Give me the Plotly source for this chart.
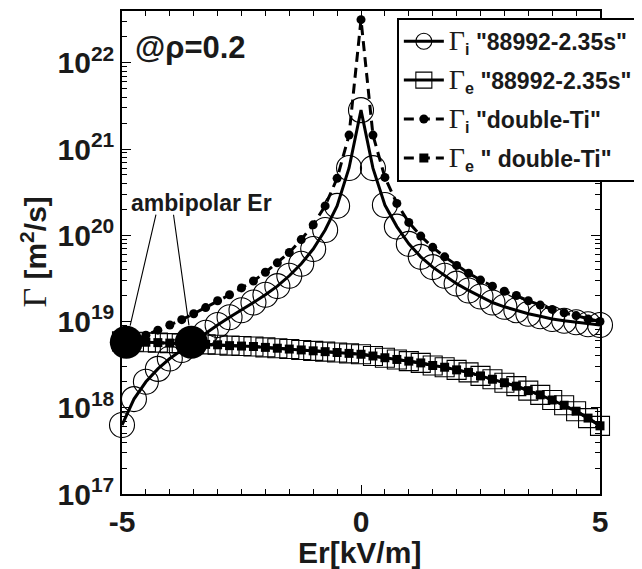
import math
import plotly.graph_objects as go

# Er grid [kV/m]
er = [-5.0, -4.75, -4.5, -4.25, -4.0, -3.75, -3.5, -3.25, -3.0, -2.75, -2.5,
      -2.25, -2.0, -1.75, -1.5, -1.25, -1.0, -0.75, -0.5, -0.25, 0.0,
      0.25, 0.5, 0.75, 1.0, 1.25, 1.5, 1.75, 2.0, 2.25, 2.5,
      2.75, 3.0, 3.25, 3.5, 3.75, 4.0, 4.25, 4.5, 4.75, 5.0]

# Gamma_i "88992-2.35s"  [m^2/s]
gamma_i_88992 = [6.3e17, 1.26e18, 2.0e18, 2.82e18, 3.72e18, 4.68e18, 5.89e18, 7.41e18,
                 9.12e18, 1.12e19, 1.35e19, 1.66e19, 2.04e19, 2.57e19, 3.39e19, 4.68e19,
                 6.92e19, 1.15e20, 2.19e20, 6.03e20, 2.82e21,
                 6.0e20, 2.24e20, 1.26e20, 7.94e19, 5.62e19, 4.27e19, 3.39e19, 2.75e19,
                 2.29e19, 1.95e19, 1.66e19, 1.48e19, 1.35e19, 1.23e19, 1.15e19, 1.07e19,
                 1.02e19, 9.8e18, 9.3e18, 9.1e18]

# Gamma_e "88992-2.35s"
gamma_e_88992 = [5.89e18, 5.82e18, 5.75e18, 5.69e18, 5.62e18, 5.56e18, 5.50e18, 5.43e18,
                 5.37e18, 5.25e18, 5.19e18, 5.13e18, 5.01e18, 4.90e18, 4.79e18, 4.68e18,
                 4.57e18, 4.47e18, 4.37e18, 4.27e18, 4.17e18,
                 3.98e18, 3.80e18, 3.63e18, 3.47e18, 3.31e18, 3.09e18, 2.95e18, 2.75e18,
                 2.57e18, 2.34e18, 2.14e18, 1.95e18, 1.78e18, 1.58e18, 1.41e18, 1.23e18,
                 1.07e18, 9.12e17, 7.59e17, 6.17e17]

# Gamma_i "double-Ti"
gamma_i_double = [5.25e18, 6.03e18, 6.92e18, 7.94e18, 9.12e18, 1.05e19, 1.23e19, 1.45e19,
                  1.74e19, 2.04e19, 2.45e19, 2.95e19, 3.72e19, 4.79e19, 6.31e19, 8.91e19,
                  1.32e20, 2.19e20, 4.57e20, 1.45e21, 3.16e22,
                  1.45e21, 4.68e20, 2.34e20, 1.41e20, 9.77e19, 7.24e19, 5.62e19, 4.47e19,
                  3.63e19, 3.02e19, 2.57e19, 2.24e19, 2.0e19, 1.74e19, 1.55e19, 1.38e19,
                  1.26e19, 1.17e19, 1.07e19, 1.0e19]

# Gamma_e "double-Ti"
gamma_e_double = [5.89e18, 5.82e18, 5.75e18, 5.69e18, 5.62e18, 5.56e18, 5.50e18, 5.43e18,
                  5.37e18, 5.25e18, 5.19e18, 5.13e18, 5.01e18, 4.90e18, 4.79e18, 4.68e18,
                  4.57e18, 4.47e18, 4.37e18, 4.27e18, 4.17e18,
                  3.98e18, 3.80e18, 3.63e18, 3.47e18, 3.31e18, 3.09e18, 2.95e18, 2.75e18,
                  2.57e18, 2.34e18, 2.14e18, 1.95e18, 1.78e18, 1.58e18, 1.41e18, 1.23e18,
                  1.07e18, 9.12e17, 7.59e17, 6.17e17]

# ambipolar Er solutions
ambi_er = [-4.91, -3.55]
ambi_gamma = [5.75e18, 5.75e18]

y_tickvals = [1e17, 1e18, 1e19, 1e20, 1e21, 1e22]
y_exponents = ["17", "18", "19", "20", "21", "22"]
x_tickvals = [-5, 0, 5]
x_ticktext = ["-5", "0", "5"]

SANS = "Liberation Sans, Arial, sans-serif"
INK = "#1a1a1a"
y_ticktext = ['10<sup><span style="font-size:21px">%s</span></sup>' % e for e in y_exponents]


def gam(size):
    return ('<span style="font-family:Liberation Serif;font-weight:normal;font-size:%dpx">Γ</span>'
            % size)


fig = go.Figure()

fig.add_trace(go.Scatter(
    x=er, y=gamma_i_88992, mode="lines+markers", cliponaxis=False,
    name=gam(28) + '<sub>i</sub> "88992-2.35s"', legendrank=1, legendgroup="a",
    line=dict(color="black", width=3),
    marker=dict(symbol="circle-open", size=25, color="black", line=dict(width=1.1, color="black")),
))
fig.add_trace(go.Scatter(
    x=er, y=gamma_e_88992, mode="lines+markers", cliponaxis=False,
    name=gam(28) + '<sub>e</sub> "88992-2.35s"', legendrank=2, legendgroup="b",
    line=dict(color="black", width=3),
    marker=dict(symbol="square-open", size=19, color="black", line=dict(width=1.1, color="black")),
))
fig.add_trace(go.Scatter(
    x=er, y=gamma_i_double, mode="lines+markers", cliponaxis=False,
    name=gam(28) + '<sub>i</sub> "double-Ti"', legendrank=3, legendgroup="c",
    line=dict(color="black", width=3, dash="10px,6px"),
    marker=dict(symbol="circle", size=9, color="black"),
))
fig.add_trace(go.Scatter(
    x=er, y=gamma_e_double, mode="lines+markers", cliponaxis=False,
    name=gam(28) + '<sub>e</sub> " double-Ti"', legendrank=4, legendgroup="d",
    line=dict(color="black", width=3, dash="10px,6px"),
    marker=dict(symbol="square", size=9, color="black"),
))
fig.add_trace(go.Scatter(
    x=ambi_er, y=ambi_gamma, mode="markers", cliponaxis=False, showlegend=False,
    marker=dict(symbol="circle", size=33, color="black"),
))

axis_common = dict(
    showline=True, linecolor="black", linewidth=1.5, mirror="ticks",
    ticks="inside", ticklen=9, tickwidth=1.3, tickcolor="black",
    showgrid=False, zeroline=False, automargin=False,
)

fig.update_xaxes(
    **axis_common, range=[-5, 5], tickvals=x_tickvals, ticktext=x_ticktext,
    tickfont=dict(family=SANS, size=30, color=INK, weight="bold"),
    minor=dict(ticks="inside", dtick=0.5, ticklen=5, tickwidth=1.2, tickcolor="black"),
)
fig.update_yaxes(
    **axis_common, type="log", range=[17, 22.6], tickvals=y_tickvals, ticktext=y_ticktext,
    tickfont=dict(family=SANS, size=30, color=INK, weight="bold"),
    minor=dict(ticks="inside", dtick="D1", ticklen=5, tickwidth=1.2, tickcolor="black"),
)

annotations = [
    # axis titles
    dict(xref="paper", yref="paper", x=0.497, y=-0.121, xanchor="center", yanchor="middle",
         text="Er[kV/m]", showarrow=False,
         font=dict(family=SANS, size=30, color=INK, weight="bold")),
    dict(xref="paper", yref="paper", x=-0.184, y=0.5, xanchor="center", yanchor="middle",
         textangle=-90, text=gam(34) + " [m<sup>2</sup>/s]", showarrow=False,
         font=dict(family=SANS, size=30, color=INK, weight="bold")),
    # labels
    dict(xref="paper", yref="paper", x=0.022, y=0.925, xanchor="left", yanchor="middle",
         text="@ρ=0.2", showarrow=False,
         font=dict(family=SANS, size=31, color=INK, weight="bold")),
    dict(xref="paper", yref="paper", x=0.015, y=0.602, xanchor="left", yanchor="middle",
         text="ambipolar Er", showarrow=False,
         font=dict(family=SANS, size=23, color=INK, weight="bold")),
]
for xv, yv, axp in zip(ambi_er, ambi_gamma, [30, -18]):
    annotations.append(dict(
        xref="x", yref="y", x=xv, y=math.log10(yv), text="",
        showarrow=True, arrowhead=0, arrowwidth=1.1, arrowcolor="black",
        ax=axp, ay=-129, standoff=17,
    ))

# the page places the figure 8 px in from the window's top-left corner,
# so the figure is 8 px smaller and the margins are shifted accordingly
fig.update_layout(
    width=634, height=561,
    margin=dict(l=114, r=37, t=3, b=75),
    paper_bgcolor="white", plot_bgcolor="white",
    font=dict(family=SANS, color=INK),
    annotations=annotations,
    legend=dict(
        x=0.575, y=0.986, xanchor="left", yanchor="top",
        bgcolor="white", bordercolor="black", borderwidth=2,
        font=dict(family=SANS, size=23, color=INK, weight="bold"),
        traceorder="grouped", itemwidth=40, tracegroupgap=6,
    ),
)

fig.write_html("out.html")
